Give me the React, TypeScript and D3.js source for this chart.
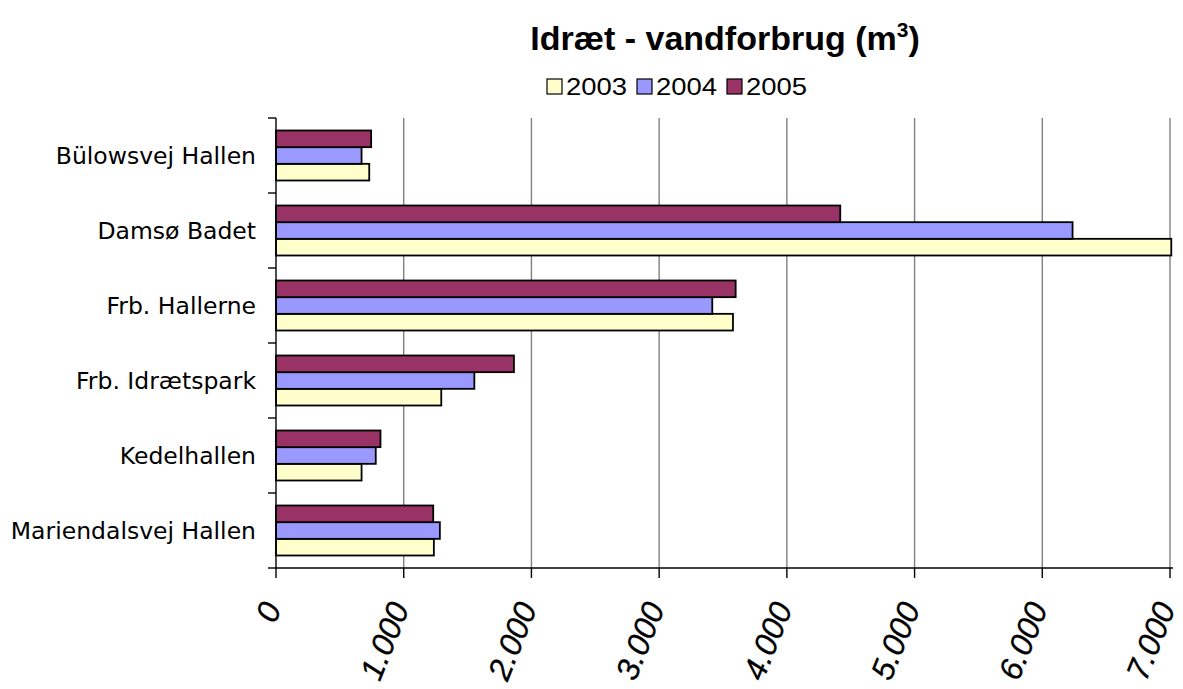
import React from 'react'
import * as d3 from 'd3'

// facilities, top to bottom
const CATEGORIES = [
  'Bülowsvej Hallen',
  'Damsø Badet',
  'Frb. Hallerne',
  'Frb. Idrætspark',
  'Kedelhallen',
  'Mariendalsvej Hallen',
]
const YEARS = ['2003', '2004', '2005']
const V2003 = [730, 7010, 3578, 1294, 670, 1236]
const V2004 = [670, 6237, 3416, 1553, 781, 1283]
const V2005 = [745, 4418, 3599, 1863, 818, 1231]
const X_TICKS = [0, 1000, 2000, 3000, 4000, 5000, 6000, 7000]

const COLORS: Record<string, string> = { '2003': '#FFFFCC', '2004': '#9999FF', '2005': '#993366' }
const SERIES: Record<string, number[]> = { '2003': V2003, '2004': V2004, '2005': V2005 }

const W = 1183
const H = 689
const left = 276
const right = 1170
const top = 118
const bottom = 568
const ARIAL = 'Liberation Sans, Arial, sans-serif'

export default function App() {
  const x = d3.scaleLinear().domain([0, 7000]).range([left, right])
  const y0 = d3.scaleBand<string>().domain(CATEGORIES).range([top, bottom])
    .paddingInner(1 / 3).paddingOuter(1 / 6)
  // 2005 on top, 2003 at the bottom of each group
  const y1 = d3.scaleBand<string>().domain(['2005', '2004', '2003']).range([0, y0.bandwidth()])
  const step = y0.step()
  const fmt = (v: number) => (v === 0 ? '0' : d3.format(',')(v).replace(/,/g, '.'))

  return (
    <svg width={W} height={H} style={{ position: 'absolute', left: 0, top: 0, background: '#fff' }}>
      {/* title */}
      <text x={725} y={50} textAnchor="middle" fontFamily={ARIAL}
        fontWeight="bold" fontSize={34} fill="#000">
        Idræt - vandforbrug (m<tspan dy={-13} fontSize={21}>3</tspan><tspan dy={13}>)</tspan>
      </text>

      {/* legend */}
      {YEARS.map((yr, i) => {
        const lx = 547 + i * 90
        return (
          <g key={yr}>
            <rect x={lx} y={79} width={15} height={15} fill={COLORS[yr]} stroke="#000" strokeWidth={1.2} />
            <text x={lx + 19} y={95} fontFamily={ARIAL} fontSize={23} textLength={61}
              lengthAdjust="spacingAndGlyphs" fill="#000">{yr}</text>
          </g>
        )
      })}

      {/* gridlines */}
      {X_TICKS.filter(t => t > 0).map(t => (
        <line key={t} x1={x(t)} x2={x(t)} y1={top} y2={bottom} stroke="#808080" strokeWidth={1.4} />
      ))}

      {/* bars */}
      {CATEGORIES.map((c, ci) => (
        <g key={c} transform={`translate(0,${y0(c)})`}>
          {YEARS.map(yr => (
            <rect key={yr} x={x(0)} y={y1(yr)} width={x(SERIES[yr][ci]) - x(0)} height={y1.bandwidth()}
              fill={COLORS[yr]} stroke="#000" strokeWidth={1.8} />
          ))}
        </g>
      ))}

      {/* axes */}
      <line x1={left} x2={left} y1={top} y2={bottom} stroke="#000" strokeWidth={1.4} />
      <line x1={left} x2={right + 3} y1={bottom} y2={bottom} stroke="#000" strokeWidth={1.4} />
      {d3.range(CATEGORIES.length + 1).map(i => (
        <line key={i} x1={left - 8} x2={left} y1={top + i * step} y2={top + i * step} stroke="#000" strokeWidth={1.4} />
      ))}
      {X_TICKS.map(t => (
        <line key={t} x1={x(t)} x2={x(t)} y1={bottom} y2={bottom + 10} stroke="#000" strokeWidth={1.4} />
      ))}

      {/* category labels */}
      {CATEGORIES.map(c => (
        <text key={c} x={left - 20} y={(y0(c) ?? 0) + y0.bandwidth() / 2} dy="0.36em" textAnchor="end"
          fontFamily="DejaVu Sans, Verdana, sans-serif" fontSize={23.5} fill="#000">{c}</text>
      ))}

      {/* value labels */}
      {X_TICKS.map(t => (
        <text key={t} transform={`translate(${x(t) + 6},${bottom + 40}) rotate(-68)`} textAnchor="end"
          fontFamily={ARIAL} fontStyle="italic" fontSize={32} stroke="#000" strokeWidth={0.3}
          fill="#000">{fmt(t)}</text>
      ))}
    </svg>
  )
}
